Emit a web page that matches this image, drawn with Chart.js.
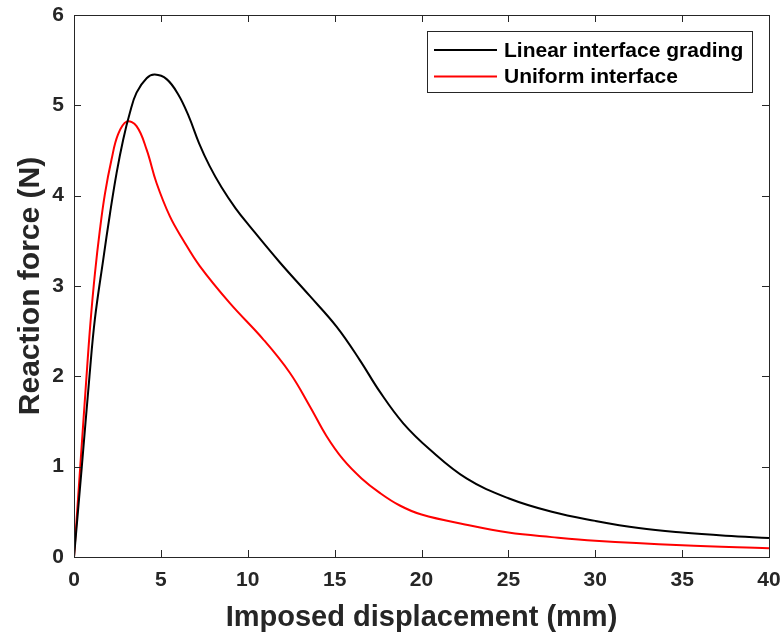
<!DOCTYPE html>
<html>
<head>
<meta charset="utf-8">
<script src="https://cdn.jsdelivr.net/npm/chart.js@4/dist/chart.umd.min.js"></script>
<style>
html,body{margin:0;padding:0;background:#fff;}
#wrap{width:784px;height:639px;position:relative;}
</style>
</head>
<body>
<div id="wrap"><canvas id="c" width="784" height="639"></canvas></div>
<script>
// Linear interface grading (black)
const gradedX = [0, 0.45, 0.89, 1.20, 1.68, 2.07, 2.45, 2.83, 3.22, 3.60, 4.18, 4.65, 5.33, 6.0, 6.6, 7.2, 7.8, 8.5, 9.3, 10.12, 11.85, 13.57, 15.11, 16.45, 17.6, 18.95, 20.48, 22.59, 25, 27.5, 30, 32.5, 35, 37.5, 40];
const gradedY = [0, 1.0, 2.0, 2.63, 3.29, 3.80, 4.25, 4.62, 4.92, 5.14, 5.30, 5.34, 5.29, 5.12, 4.88, 4.58, 4.33, 4.09, 3.86, 3.66, 3.26, 2.89, 2.55, 2.18, 1.83, 1.48, 1.19, 0.87, 0.65, 0.50, 0.40, 0.32, 0.27, 0.235, 0.21];
// Uniform interface (red)
const uniformX = [0, 0.36, 0.72, 0.95, 1.20, 1.49, 1.78, 2.16, 2.54, 3.03, 3.60, 4.18, 4.75, 5.52, 6.28, 7.24, 8.97, 10.89, 12.42, 13.57, 14.53, 15.49, 16.55, 17.6, 18.75, 20, 22.5, 25, 27.5, 30, 35, 40];
const uniformY = [0, 1.0, 2.0, 2.60, 3.13, 3.62, 4.02, 4.40, 4.68, 4.82, 4.77, 4.51, 4.14, 3.77, 3.51, 3.22, 2.81, 2.41, 2.04, 1.67, 1.34, 1.08, 0.87, 0.71, 0.57, 0.47, 0.36, 0.27, 0.22, 0.18, 0.13, 0.096];
const seriesLabels = ["Linear interface grading", "Uniform interface"];
const xTicks = [0, 5, 10, 15, 20, 25, 30, 35, 40];
const yTicks = [0, 1, 2, 3, 4, 5, 6];

const toPts = (xs, ys) => xs.map((x, i) => ({x: x, y: ys[i]}));
const AX = '#262626';
const FONT = '"Liberation Sans", Arial, sans-serif';

const framePlugin = {
  id: 'frame',
  afterDatasetsDraw(chart) {
    const {ctx, chartArea: a, scales} = chart;
    ctx.save();
    ctx.strokeStyle = AX;
    ctx.lineWidth = 1;
    ctx.strokeRect(Math.round(a.left) + 0.5, Math.round(a.top) + 0.5, Math.round(a.right - a.left), Math.round(a.bottom - a.top));
    const tl = 7;
    ctx.beginPath();
    xTicks.forEach(v => {
      const px = Math.round(scales.x.getPixelForValue(v)) + 0.5;
      ctx.moveTo(px, a.bottom); ctx.lineTo(px, a.bottom - tl);
      ctx.moveTo(px, a.top); ctx.lineTo(px, a.top + tl);
    });
    yTicks.forEach(v => {
      const py = Math.round(scales.y.getPixelForValue(v)) + 0.5;
      ctx.moveTo(a.left, py); ctx.lineTo(a.left + tl, py);
      ctx.moveTo(a.right, py); ctx.lineTo(a.right - tl, py);
    });
    ctx.stroke();
    // legend box
    const bx = 427.5, by = 31.5, bw = 325, bh = 61;
    ctx.fillStyle = '#fff';
    ctx.fillRect(bx, by, bw, bh);
    ctx.strokeStyle = AX;
    ctx.strokeRect(bx, by, bw, bh);
    ctx.font = 'bold 21px ' + FONT;
    ctx.textBaseline = 'middle';
    chart.data.datasets.forEach((ds, i) => {
      const yy = 50 + i * 26.5;
      ctx.strokeStyle = ds.borderColor;
      ctx.lineWidth = 2;
      ctx.beginPath();
      ctx.moveTo(434, yy); ctx.lineTo(497, yy);
      ctx.stroke();
      ctx.fillStyle = '#000';
      ctx.fillText(ds.label, 504, yy + 1);
    });
    ctx.restore();
  }
};

new Chart(document.getElementById('c'), {
  type: 'scatter',
  data: {
    datasets: [
      {label: seriesLabels[0], data: toPts(gradedX, gradedY), borderColor: '#000000', backgroundColor: '#000000', showLine: true, pointRadius: 0, borderWidth: 2, tension: 0.4},
      {label: seriesLabels[1], data: toPts(uniformX, uniformY), borderColor: '#ff0000', backgroundColor: '#ff0000', showLine: true, pointRadius: 0, borderWidth: 2, tension: 0.4}
    ]
  },
  options: {
    responsive: false,
    animation: false,
    layout: {padding: {top: 15, right: 15, left: 0, bottom: 0}},
    plugins: {legend: {display: false}, tooltip: {enabled: false}},
    scales: {
      x: {
        type: 'linear', min: 0, max: 40,
        afterBuildTicks: s => { s.ticks = xTicks.map(v => ({value: v})); },
        afterFit: s => { s.height = 82; s.paddingLeft = 0; s.paddingRight = 0; },
        grid: {display: false, drawTicks: false},
        border: {display: false},
        ticks: {color: AX, font: {family: FONT, size: 21, weight: 'bold'}, padding: 11, maxRotation: 0},
        title: {display: true, text: 'Imposed displacement (mm)', color: AX, font: {family: FONT, size: 29, weight: 'bold'}, padding: {bottom: 4}}
      },
      y: {
        type: 'linear', min: 0, max: 6,
        afterBuildTicks: s => { s.ticks = yTicks.map(v => ({value: v})); },
        afterFit: s => { s.width = 74; s.paddingTop = 0; s.paddingBottom = 0; },
        grid: {display: false, drawTicks: false},
        border: {display: false},
        ticks: {color: AX, font: {family: FONT, size: 21, weight: 'bold'}, padding: 10},
        title: {display: true, text: 'Reaction force (N)', color: AX, font: {family: FONT, size: 30, weight: 'bold'}, padding: {top: 13}}
      }
    }
  },
  plugins: [framePlugin]
});
</script>
</body>
</html>
